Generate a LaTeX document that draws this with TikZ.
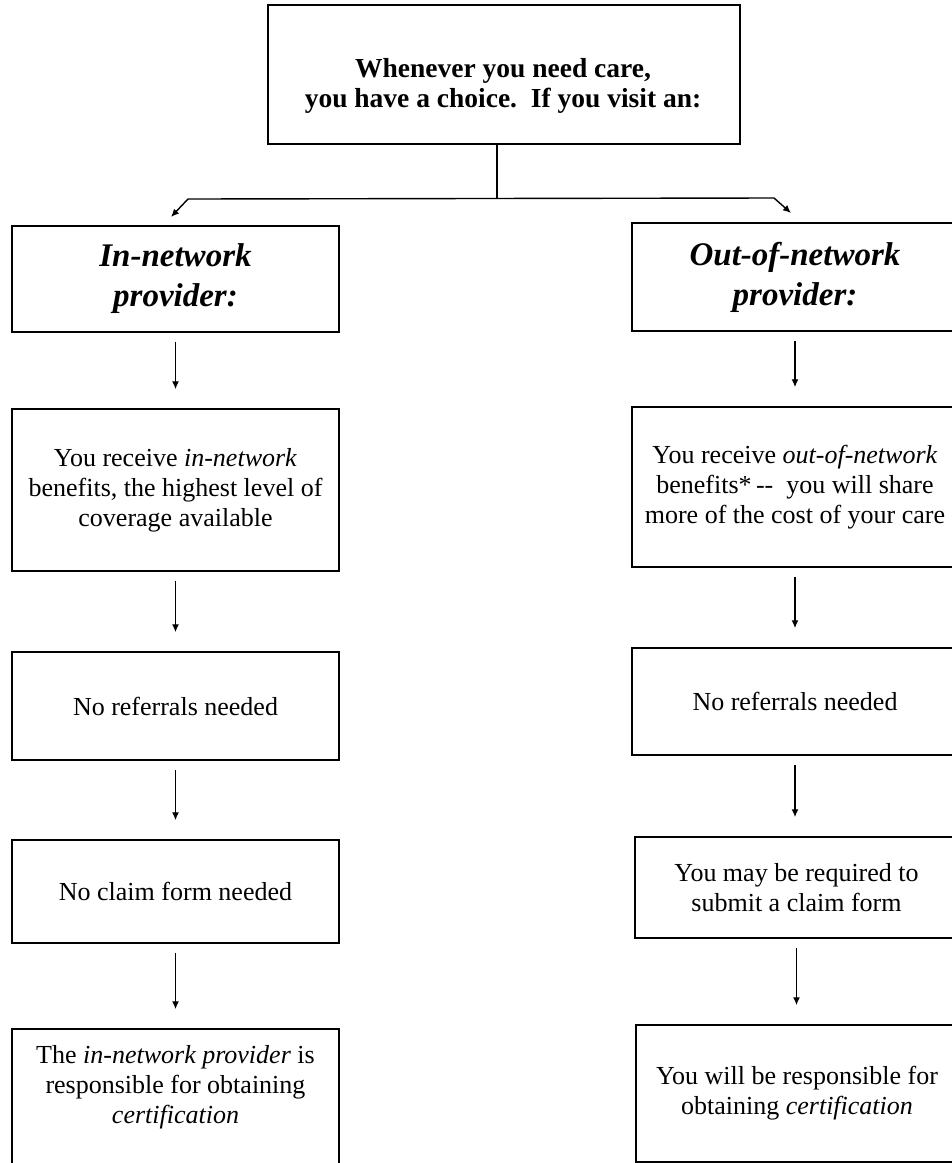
\documentclass[tikz,border=0pt]{standalone}
\usepackage{fontspec}
\setmainfont{Liberation Serif}
\usetikzlibrary{arrows.meta}
\begin{document}
\begin{tikzpicture}[x=1pt,y=-1pt,
  box/.style={draw, line width=1.5pt, inner sep=0pt, align=center,
    font=\fontsize{26}{30}\selectfont},
  headbox/.style={box, font=\fontsize{33}{40}\selectfont\bfseries\itshape},
  plaintext/.style={inner sep=0pt, align=center},
  arr/.style={-{Latex[length=8pt,width=7pt]}, line width=1.4pt,
    shorten <=9pt, shorten >=19pt},
  branch/.style={{Latex[length=8pt,width=7pt]}-{Latex[length=8pt,width=7pt]},
    line width=1.4pt}
]
\path[use as bounding box, fill=white] (0,0) rectangle (952,1163);

% top box
\node[box, minimum width=472pt, minimum height=139pt] (top) at (504,74.5) {};
\node[plaintext, font=\fontsize{27.5}{30}\selectfont\bfseries] (toptxt) at (503,86)
  {Whenever you need care,\\you have a choice.\ \ If you visit an:};

% left column
\node[headbox, minimum width=327pt, minimum height=106pt] (L1) at (175.5,279)
  {In-network\\provider:};
\node[box, minimum width=327pt, minimum height=162pt] (L2) at (175.5,490)
  {You receive \textit{in-network}\\benefits, the highest level of\\coverage available};
\node[box, minimum width=327pt, minimum height=108pt] (L3) at (175.5,706)
  {No referrals needed};
\node[box, minimum width=327pt, minimum height=103pt] (L4) at (175.5,891.5)
  {No claim form needed};
\node[box, minimum width=327pt, minimum height=162pt] (L5) at (175.5,1110) {};
\node[plaintext, font=\fontsize{26}{30}\selectfont] (L5t) at (175.5,1087)
  {The \textit{in-network provider} is\\responsible for obtaining\\\textit{certification}};

% right column
\node[headbox, minimum width=326pt, minimum height=108pt] (R1) at (795,277)
  {Out-of-network\\provider:};
\node[box, minimum width=326pt, minimum height=160pt] (R2) at (795,487)
  {You receive \textit{out-of-network}\\benefits*\,-{}-\ \ you will share\\more of the cost of your care};
\node[box, minimum width=326pt, minimum height=107pt] (R3) at (795,701.5)
  {No referrals needed};
\node[box, minimum width=323pt, minimum height=101pt] (R4) at (796.5,887.5)
  {You may be required to\\submit a claim form};
\node[box, minimum width=322pt, minimum height=137pt] (R5) at (797,1093.5)
  {You will be responsible for\\obtaining \textit{certification}};

% branch from top
\coordinate (jn) at (497,199);
\coordinate (lb) at (188,199);
\coordinate (lt) at (171,217);
\coordinate (rb) at (774,198);
\coordinate (rt) at (791,213);
\draw[line width=1.4pt] (top.south -| jn) -- (jn);
\draw[branch] (lt) -- (lb) -- (rb) -- (rt);

% vertical arrows
\draw[arr] (L1) -- (L2);
\draw[arr] (L2) -- (L3);
\draw[arr] (L3) -- (L4);
\draw[arr] (L4) -- (L5);
\draw[arr] (R1.south) -- (R1.south |- R2.north);
\draw[arr] (R2.south) -- (R2.south |- R3.north);
\draw[arr] (R3.south) -- (R3.south |- R4.north);
\draw[arr] (R4.south) -- (R4.south |- R5.north);
\end{tikzpicture}
\end{document}
